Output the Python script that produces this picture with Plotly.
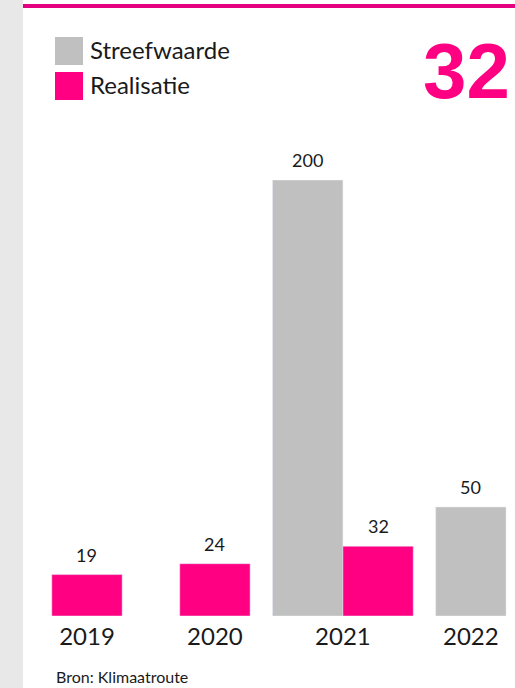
import plotly.graph_objects as go

years = ["2019", "2020", "2021", "2022"]
streefwaarde = [None, None, 200, 50]
realisatie = [19, 24, 32, None]
source_text = "Bron: Klimaatroute"

GREY = "#C0C0C0"
PINK = "#FF0083"
LINE_PINK = "#E4007E"
TEXT = "#1A1A1A"
FONT = "Lato, 'Noto Sans', sans-serif"

W, H = 515, 688
L, R, T, B = 23, 0, 180, 72
PW, PH = W - L - R, H - T - B


def px_x(px):
    return (px - L) / PW


def px_y(py):
    return (H - B - py) / PH


bar_w = 0.55
streef_off, real_off = [], []
for s, r in zip(streefwaarde, realisatie):
    if s is not None and r is not None:
        streef_off.append(-bar_w)
        real_off.append(0)
    else:
        streef_off.append(-bar_w / 2)
        real_off.append(-bar_w / 2)

fig = go.Figure()
fig.add_trace(go.Bar(x=years, y=streefwaarde, name="Streefwaarde", marker_color=GREY,
                     width=bar_w, offset=streef_off, showlegend=False))
fig.add_trace(go.Bar(x=years, y=realisatie, name="Realisatie", marker_color=PINK,
                     width=bar_w, offset=real_off, showlegend=False))

annotations = []
for vals, offs in [(streefwaarde, streef_off), (realisatie, real_off)]:
    for j, (v, o) in enumerate(zip(vals, offs)):
        if v is None:
            continue
        annotations.append(dict(x=j + o + bar_w / 2, y=v, xref="x", yref="y", text=str(v),
                                showarrow=False, yanchor="middle", yshift=20,
                                font=dict(size=18, color=TEXT, family=FONT)))

# legend drawn by hand (big squares)
shapes = [
    dict(type="rect", xref="paper", yref="paper", x0=px_x(0), x1=px_x(23), y0=-1, y1=2,
         fillcolor="#E8E8E8", line_width=0, layer="below"),
    dict(type="rect", xref="paper", yref="paper", x0=px_x(23), x1=px_x(515), y0=px_y(8), y1=px_y(4),
         fillcolor=LINE_PINK, line_width=0),
]
for k, (name, col) in enumerate([("Streefwaarde", GREY), ("Realisatie", PINK)]):
    top = 37 + k * 35
    shapes.append(dict(type="rect", xref="paper", yref="paper", x0=px_x(55), x1=px_x(83),
                       y0=px_y(top + 28), y1=px_y(top), fillcolor=col, line_width=0))
    annotations.append(dict(x=px_x(88), y=px_y(top + 13), xref="paper", yref="paper", text=name,
                            showarrow=False, xanchor="left", yanchor="middle",
                            font=dict(size=24, color=TEXT, family=FONT)))

latest = [v for v in realisatie if v is not None][-1]
annotations.append(dict(x=px_x(512), y=px_y(71), xref="paper", yref="paper", text=f"<b>{latest}</b>",
                        showarrow=False, xanchor="right", yanchor="middle",
                        font=dict(size=78, color=PINK, family="'Liberation Sans', Arial, sans-serif")))
annotations.append(dict(x=px_x(54), y=px_y(676), xref="paper", yref="paper", text=source_text,
                        showarrow=False, xanchor="left", yanchor="middle",
                        font=dict(size=16, color=TEXT, family=FONT)))

fig.update_layout(
    width=W, height=H,
    margin=dict(l=L, r=R, t=T, b=B, pad=0),
    barmode="overlay",
    paper_bgcolor="white", plot_bgcolor="rgba(0,0,0,0)",
    shapes=shapes, annotations=annotations,
    xaxis=dict(range=[-0.5, 3.345], showgrid=False, zeroline=False, showline=False, ticks="",
               tickfont=dict(size=24, color=TEXT, family=FONT), ticklabelstandoff=4, fixedrange=True),
    yaxis=dict(range=[0, 200], visible=False, fixedrange=True),
    font=dict(family=FONT),
)

fig.write_html("out.html", config={"displayModeBar": False},
               post_script="document.body.style.margin='0';")
